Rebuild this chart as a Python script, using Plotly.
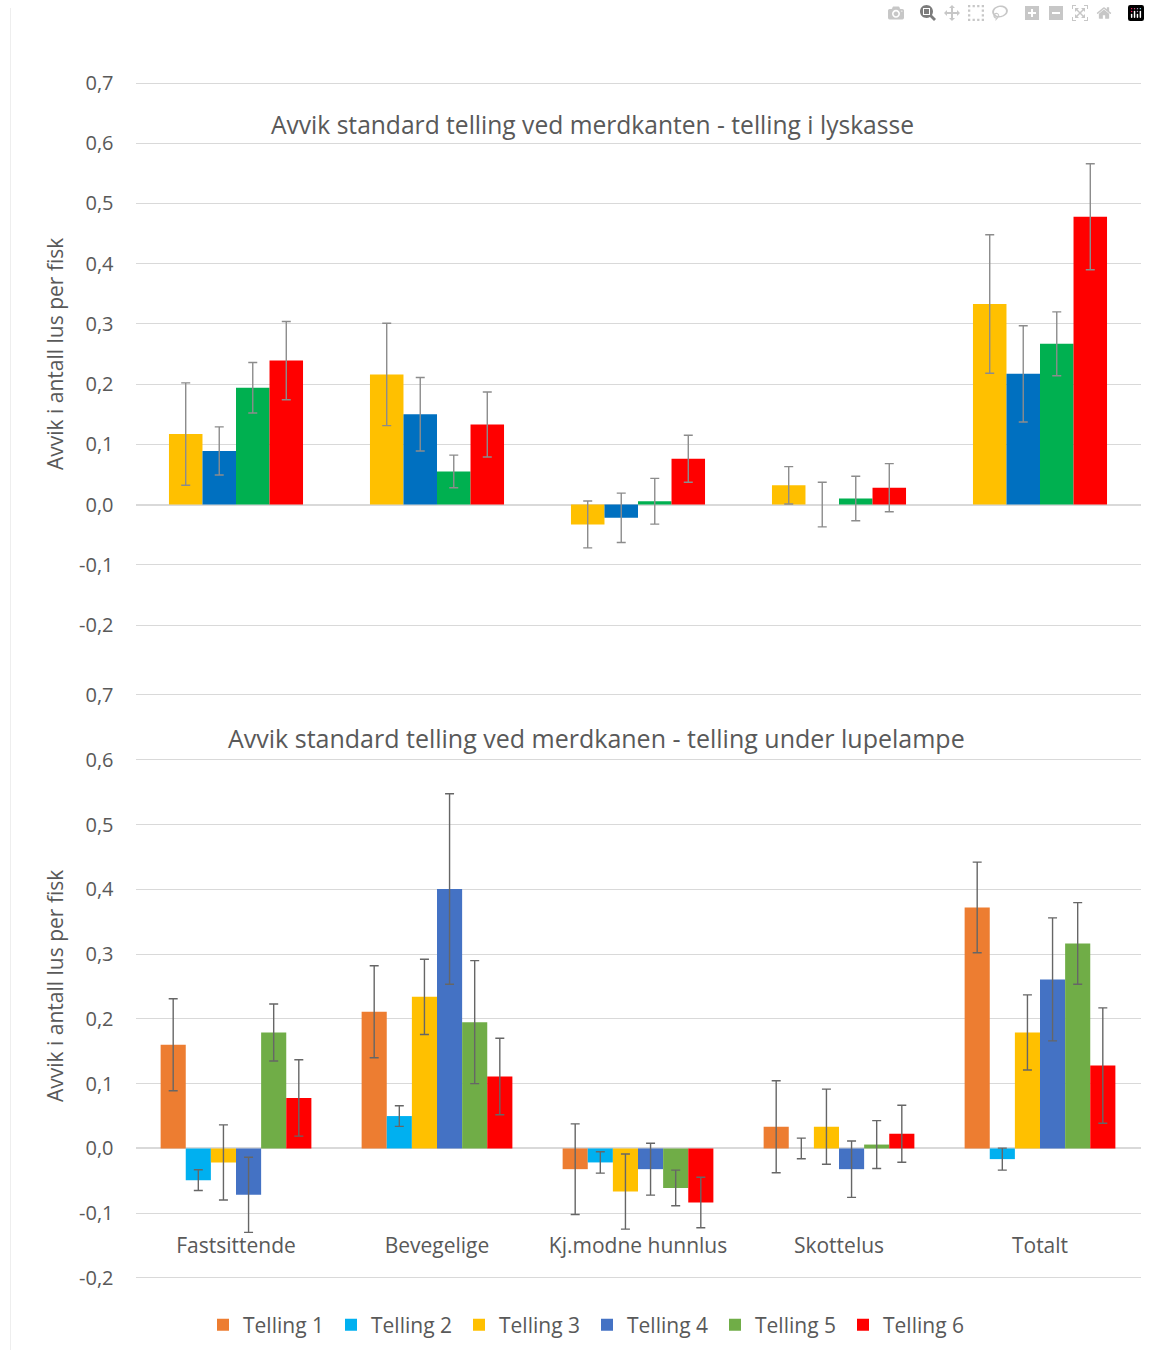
import plotly.graph_objects as go

CATEGORIES = ["Fastsittende", "Bevegelige", "Kj.modne hunnlus", "Skottelus", "Totalt"]

Y_TICKS = [-0.2, -0.1, 0.0, 0.1, 0.2, 0.3, 0.4, 0.5, 0.6, 0.7]
Y_TICK_LABELS = ["-0,2", "-0,1", "0,0", "0,1", "0,2", "0,3", "0,4", "0,5", "0,6", "0,7"]

TOP_TITLE = "Avvik standard telling ved merdkanten - telling i lyskasse"
BOTTOM_TITLE = "Avvik standard telling ved merdkanen - telling under lupelampe"
Y_TITLE = "Avvik i antall lus per fisk"

# Top chart (lyskasse)
TOP_NAMES = ["Telling 3", "Telling 4", "Telling 5", "Telling 6"]
top_telling3 = [0.117, 0.216, -0.033, 0.032, 0.333]
top_telling3_err = [0.085, 0.085, 0.039, 0.031, 0.115]
top_telling4 = [0.089, 0.150, -0.022, 0.0, 0.217]
top_telling4_err = [0.040, 0.061, 0.041, 0.037, 0.080]
top_telling5 = [0.194, 0.055, 0.0055, 0.010, 0.267]
top_telling5_err = [0.042, 0.027, 0.038, 0.037, 0.053]
top_telling6 = [0.239, 0.133, 0.076, 0.028, 0.478]
top_telling6_err = [0.065, 0.054, 0.039, 0.040, 0.088]
TOP_COLORS = ["#FFC000", "#0070C0", "#00B050", "#FF0000"]

# Bottom chart (lupelampe)
BOTTOM_NAMES = ["Telling 1", "Telling 2", "Telling 3", "Telling 4", "Telling 5", "Telling 6"]
bot_telling1 = [0.160, 0.211, -0.032, 0.0335, 0.372]
bot_telling1_err = [0.071, 0.071, 0.070, 0.071, 0.070]
bot_telling2 = [-0.049, 0.050, -0.0216, 0.0, -0.0165]
bot_telling2_err = [0.016, 0.016, 0.0165, 0.016, 0.017]
bot_telling3 = [-0.0216, 0.234, -0.0665, 0.0335, 0.179]
bot_telling3_err = [0.058, 0.058, 0.058, 0.058, 0.058]
bot_telling4 = [-0.0716, 0.4005, -0.032, -0.032, 0.261]
bot_telling4_err = [0.058, 0.147, 0.040, 0.0435, 0.095]
bot_telling5 = [0.179, 0.195, -0.061, 0.006, 0.3165]
bot_telling5_err = [0.044, 0.095, 0.0275, 0.037, 0.063]
bot_telling6 = [0.078, 0.111, -0.0835, 0.0227, 0.128]
bot_telling6_err = [0.059, 0.059, 0.039, 0.044, 0.089]
BOTTOM_COLORS = ["#ED7D31", "#00B0F0", "#FFC000", "#4472C4", "#70AD47", "#FF0000"]

W, H = 1150, 1350
MT, MB = 13, 13
PH = H - MT - MB
FONT = "Open Sans"
TXT = "#595959"
GRID = "#D9D9D9"


def py(px):
    """screen pixel row -> paper fraction (plot area inside margins)"""
    return (H - MB - px) / PH


def pxf(px):
    return px / W


top_vals = [top_telling3, top_telling4, top_telling5, top_telling6]
top_errs = [top_telling3_err, top_telling4_err, top_telling5_err, top_telling6_err]
bot_vals = [bot_telling1, bot_telling2, bot_telling3, bot_telling4, bot_telling5, bot_telling6]
bot_errs = [bot_telling1_err, bot_telling2_err, bot_telling3_err, bot_telling4_err,
            bot_telling5_err, bot_telling6_err]

fig = go.Figure()


def add_group(vals, errs, names, colors, group_frac, xa, ya, legend, err_color):
    n = len(vals)
    w = group_frac / n
    for i in range(n):
        fig.add_trace(go.Bar(
            x=CATEGORIES, y=vals[i], name=names[i],
            marker=dict(color=colors[i], line=dict(width=0)),
            width=w, offset=-group_frac / 2 + i * w,
            error_y=dict(type="data", array=errs[i], visible=True,
                         color=err_color, thickness=1.4, width=4.5),
            xaxis=xa, yaxis=ya, showlegend=legend,
        ))


add_group(top_vals, top_errs, TOP_NAMES, TOP_COLORS, 0.667, "x", "y", False, "#8C8C8C")
add_group(bot_vals, bot_errs, BOTTOM_NAMES, BOTTOM_COLORS, 0.75, "x2", "y2", True, "#666666")

xdom = [pxf(135.5), pxf(1140.5)]
PAD = 0.004
# top: 0.7 at 83px, -0.2 at 625px ; bottom: 0.7 at 695px, -0.2 at 1278px
t_scale = (625 - 83) / 0.9
b_scale = (1278 - 695) / 0.9
top_dom = [py(625 + PAD * t_scale), py(83 - PAD * t_scale)]
bot_dom = [py(1278 + PAD * b_scale), py(695 - PAD * b_scale)]

yax = dict(range=[-0.2 - PAD, 0.7 + PAD], tickvals=Y_TICKS, ticktext=Y_TICK_LABELS,
           showgrid=True, gridcolor=GRID, gridwidth=1,
           zeroline=True, zerolinecolor=GRID, zerolinewidth=1.5,
           showline=False, ticks="", ticklabelstandoff=21,
           tickfont=dict(family=FONT, size=20, color=TXT))

fig.update_layout(
    width=W, height=H,
    margin=dict(l=0, r=0, t=MT, b=MB),
    paper_bgcolor="white", plot_bgcolor="white",
    barmode="group",
    font=dict(family=FONT, color=TXT),
    xaxis=dict(domain=xdom, anchor="y", type="category", showticklabels=False,
               showgrid=False, zeroline=False, showline=False, ticks=""),
    yaxis=dict(domain=top_dom, anchor="x", **yax),
    xaxis2=dict(domain=xdom, anchor="free", position=py(1231), type="category",
                showgrid=False, zeroline=False, showline=False, ticks="",
                tickfont=dict(family=FONT, size=21, color=TXT)),
    yaxis2=dict(domain=bot_dom, anchor="x2", **yax),
    legend=dict(orientation="h", x=pxf(203), xanchor="left", y=py(1325), yanchor="middle",
                font=dict(family=FONT, size=21, color=TXT),
                entrywidth=83, entrywidthmode="pixels", traceorder="normal"),
    annotations=[
        dict(text=TOP_TITLE, x=pxf(592), y=py(125), xref="paper", yref="paper",
             xanchor="center", yanchor="middle",
             showarrow=False, font=dict(family=FONT, size=24.6, color=TXT)),
        dict(text=BOTTOM_TITLE, x=pxf(596), y=py(738), xref="paper", yref="paper",
             xanchor="center", yanchor="middle",
             showarrow=False, font=dict(family=FONT, size=25, color=TXT)),
        dict(text=Y_TITLE, x=pxf(55), y=py(354), xref="paper", yref="paper",
             xanchor="center", yanchor="middle",
             showarrow=False, textangle=-90, font=dict(family=FONT, size=21, color=TXT)),
        dict(text=Y_TITLE, x=pxf(55), y=py(986), xref="paper", yref="paper",
             xanchor="center", yanchor="middle",
             showarrow=False, textangle=-90, font=dict(family=FONT, size=21, color=TXT)),
    ],
    shapes=[
        dict(type="line", xref="paper", yref="paper", x0=pxf(10.5), x1=pxf(10.5),
             y0=py(8), y1=py(1350), line=dict(color="#EEEEEE", width=1)),
    ],
)

fig.write_html("out.html", post_script="document.body.style.margin='0';")
